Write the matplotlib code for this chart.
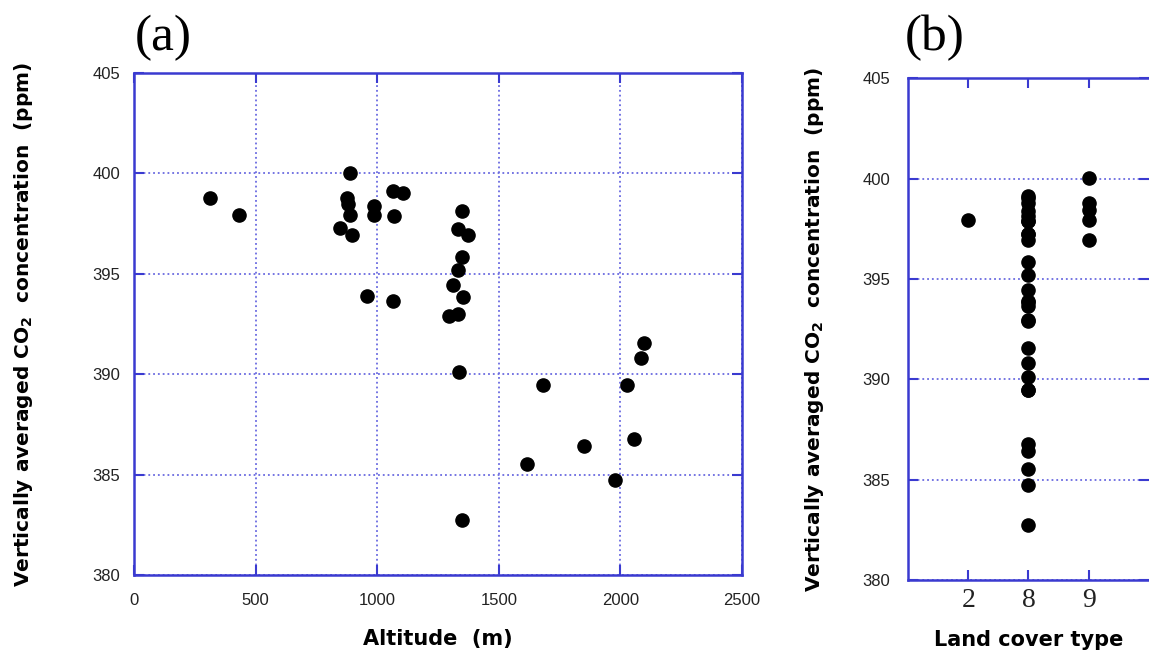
import numpy as np
import matplotlib
matplotlib.use('Agg')
import matplotlib.pyplot as plt

altitude = [312, 430, 888, 874, 881, 888, 847, 896, 987, 987, 1064, 1105, 1069,
            957, 1064, 1347, 1334, 1375, 1347, 1334, 1310, 1354, 1297, 1334,
            1335, 1680, 1617, 1852, 1979, 2028, 2056, 2097, 2083, 1347]
co2 = [398.8, 397.93, 400.04, 398.8, 398.46, 397.93, 397.26, 396.93, 398.38,
       397.91, 399.12, 399.04, 397.88, 393.9, 393.66, 398.13, 397.22, 396.93,
       395.85, 395.19, 394.44, 393.83, 392.9, 392.98, 390.13, 389.46, 385.51,
       386.44, 384.73, 389.46, 386.76, 391.57, 390.79, 382.74]
landcover = [8, 2, 9, 9, 9, 9, 8, 9, 8, 8, 8, 8, 8, 8, 8, 8, 8, 8, 8, 8, 8, 8,
             8, 8, 8, 8, 8, 8, 8, 8, 8, 8, 8, 8]

cover_types = [2, 8, 9]
alt_ticks = [0, 500, 1000, 1500, 2000, 2500]
co2_ticks = [380, 385, 390, 395, 400, 405]

spine_col = '#3a3ad0'
grid_col = '#6a6ae0'
label_col = '#222222'
sans = ['Liberation Sans', 'DejaVu Sans']
serif = ['Liberation Serif', 'DejaVu Serif']
ylabel = r'Vertically averaged CO$_\mathbf{2}$  concentration  (ppm)'

fig = plt.figure(figsize=(11.49, 6.52), dpi=100)
ax1 = fig.add_axes([0.1166, 0.1181, 0.5292, 0.7699])
ax2 = fig.add_axes([0.7902, 0.1104, 0.2098, 0.7695])


def style(ax):
    for s in ax.spines.values():
        s.set_color(spine_col)
        s.set_linewidth(1.8)
    ax.tick_params(direction='in', length=7, width=1.5, color=spine_col,
                   top=True, right=True, labelcolor=label_col)
    ax.set_axisbelow(True)


# (a) altitude
style(ax1)
ax1.scatter(altitude, co2, s=90, color='black', zorder=3)
ax1.set_xlim(0, 2500)
ax1.set_ylim(380, 405)
ax1.set_xticks(alt_ticks)
ax1.set_yticks(co2_ticks)
ax1.grid(True, color=grid_col, linestyle=':', linewidth=1.3)
ax1.tick_params(axis='x', pad=13, labelsize=12)
ax1.tick_params(axis='y', pad=10, labelsize=12)
for t in ax1.get_xticklabels() + ax1.get_yticklabels():
    t.set_family(sans)
ax1.set_xlabel('Altitude  (m)', fontsize=15, fontweight='bold',
               family='DejaVu Sans', labelpad=15)
ax1.set_ylabel(ylabel, fontsize=14.5, fontweight='bold', family='DejaVu Sans',
               labelpad=41)

# (b) land cover type
style(ax2)
ax2.spines['right'].set_visible(False)
xpos = [cover_types.index(c) + 1 for c in landcover]
ax2.scatter(xpos, co2, s=90, color='black', zorder=3)
ax2.set_xlim(0, 4)
ax2.set_ylim(380, 405)
ax2.set_xticks([1, 2, 3])
ax2.set_xticklabels([str(c) for c in cover_types])
ax2.set_yticks(co2_ticks)
ax2.grid(True, axis='y', color=grid_col, linestyle=':', linewidth=1.3)
ax2.tick_params(axis='x', pad=6, labelsize=20)
ax2.tick_params(axis='y', pad=13, labelsize=12)
for t in ax2.get_xticklabels():
    t.set_family(serif)
for t in ax2.get_yticklabels():
    t.set_family(sans)
ax2.set_xlabel('Land cover type', fontsize=15, fontweight='bold',
               family='DejaVu Sans', labelpad=12)
ax2.set_ylabel(ylabel, fontsize=14.5, fontweight='bold', family='DejaVu Sans',
               labelpad=26)

fig.text(0.117, 0.977, '(a)', fontsize=37, family=serif, va='top')
fig.text(0.787, 0.977, '(b)', fontsize=37, family=serif, va='top')

fig.savefig('out.png', dpi=100)
